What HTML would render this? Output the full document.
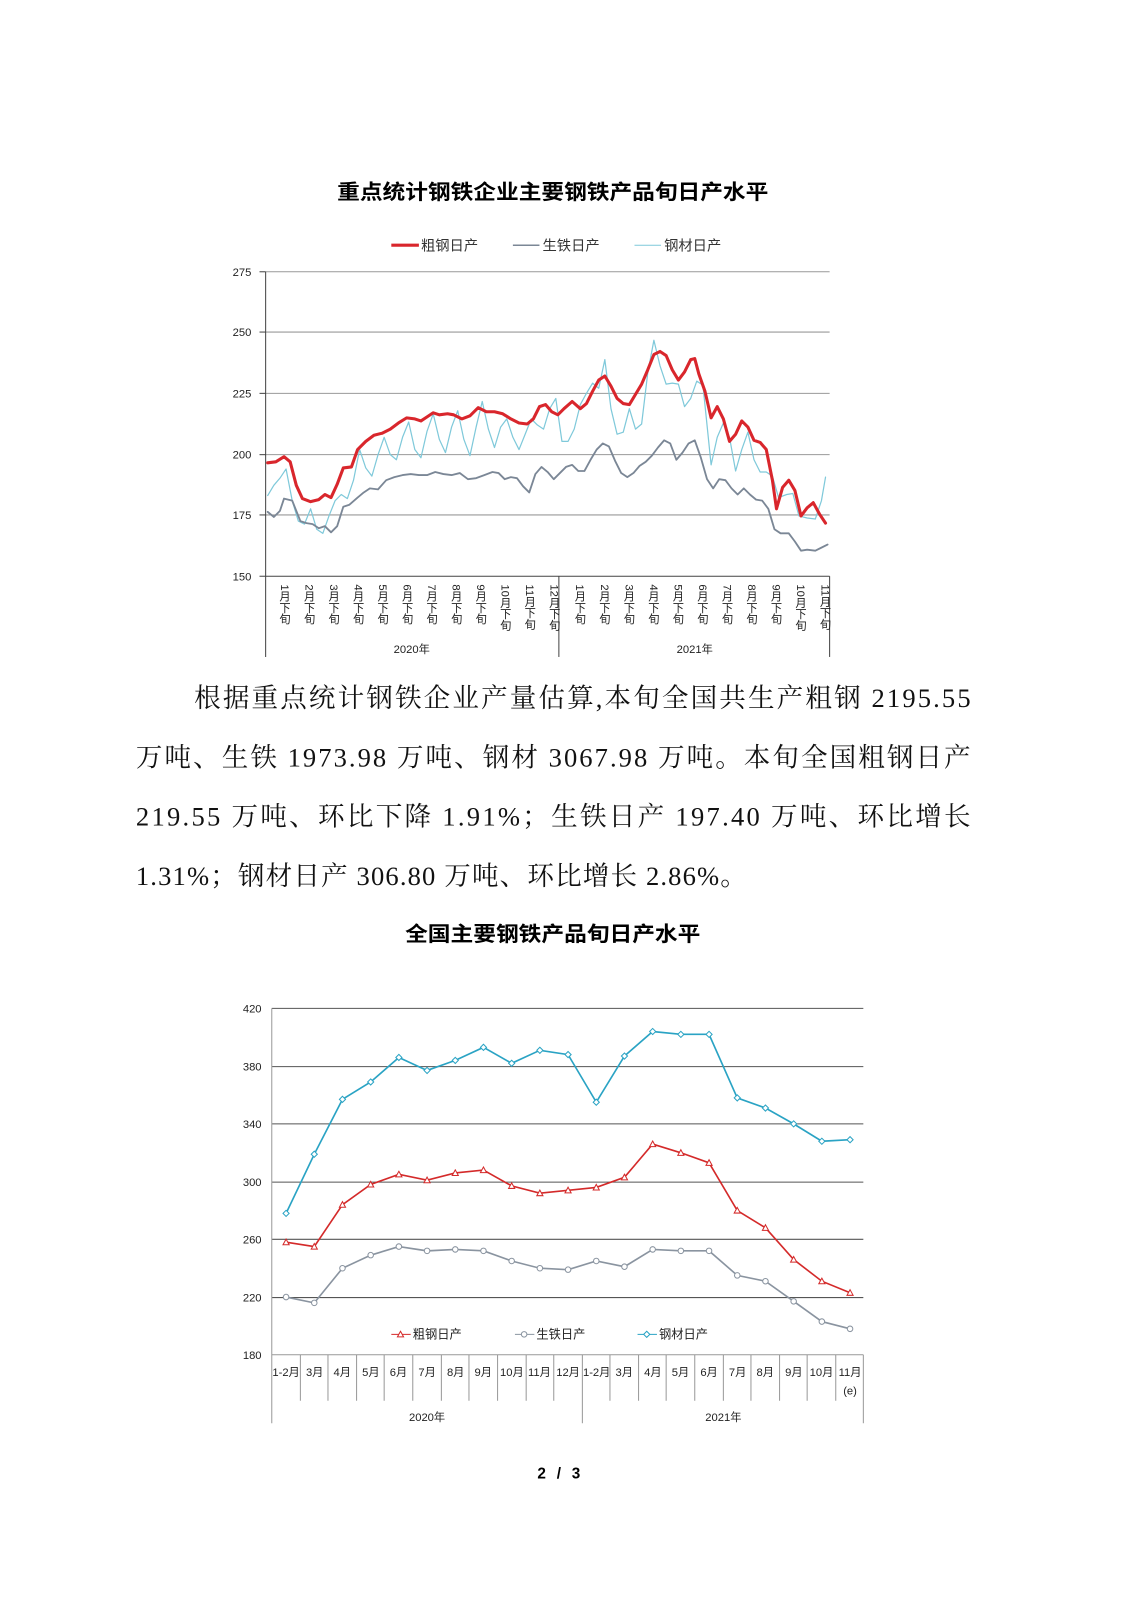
<!DOCTYPE html>
<html><head><meta charset="utf-8"><style>
body{margin:0;background:#fff;}
#o{position:relative;width:1131px;height:1600px;overflow:hidden;}
#p{position:absolute;left:0;top:0;width:1107px;height:1566px;transform:scale(1.0217);transform-origin:0 0;font-family:"Liberation Sans","Noto Sans CJK SC",sans-serif;}
.v{position:absolute;top:572px;writing-mode:vertical-rl;font-size:11px;line-height:12px;color:#222;transform:translateX(-6px);}
</style></head><body><div id="o"><div id="p">
<svg width="1131" height="1600" style="position:absolute;left:0;top:0" font-family="Liberation Sans, Noto Sans CJK SC, sans-serif">
<defs>
<marker id="mt" viewBox="-4 -4 8 8" markerWidth="8" markerHeight="8" markerUnits="userSpaceOnUse"><path d="M0,-3 L3,2.5 L-3,2.5Z" fill="#fff" stroke="#d42a2a" stroke-width="1"/></marker>
<marker id="mc" viewBox="-4 -4 8 8" markerWidth="8" markerHeight="8" markerUnits="userSpaceOnUse"><circle r="2.7" fill="#fff" stroke="#8a94a0" stroke-width="1"/></marker>
<marker id="md" viewBox="-4 -4 8 8" markerWidth="8" markerHeight="8" markerUnits="userSpaceOnUse"><path d="M0,-3 L3,0 L0,3 L-3,0Z" fill="#fff" stroke="#2aa3c4" stroke-width="1"/></marker>
</defs>
<text x="541" y="195" text-anchor="middle" font-size="20" font-weight="bold" textLength="422" lengthAdjust="spacingAndGlyphs">重点统计钢铁企业主要钢铁产品旬日产水平</text>
<g font-size="14" fill="#333">
<line x1="383" y1="240" x2="410" y2="240" stroke="#d9262c" stroke-width="3"/><text x="412" y="245">粗钢日产</text>
<line x1="502" y1="240" x2="528" y2="240" stroke="#7b8796" stroke-width="1.5"/><text x="531" y="245">生铁日产</text>
<line x1="621" y1="240" x2="647" y2="240" stroke="#7fc9da" stroke-width="1"/><text x="650" y="245">钢材日产</text>
</g>
<g stroke="#999" stroke-width="1">
<line x1="260" y1="266" x2="812" y2="266"/><line x1="260" y1="325" x2="812" y2="325"/><line x1="260" y1="385" x2="812" y2="385"/><line x1="260" y1="445" x2="812" y2="445"/><line x1="260" y1="504" x2="812" y2="504"/>
</g>
<g stroke="#444" stroke-width="1">
<line x1="260" y1="564" x2="812" y2="564"/><line x1="260" y1="266" x2="260" y2="643"/><line x1="547" y1="564" x2="547" y2="643"/><line x1="812" y1="564" x2="812" y2="643"/>
<line x1="254" y1="266" x2="260" y2="266"/><line x1="254" y1="325" x2="260" y2="325"/><line x1="254" y1="385" x2="260" y2="385"/><line x1="254" y1="445" x2="260" y2="445"/><line x1="254" y1="504" x2="260" y2="504"/><line x1="254" y1="564" x2="260" y2="564"/>
</g>
<g font-size="11" text-anchor="end" fill="#222">
<text x="246" y="270">275</text><text x="246" y="329">250</text><text x="246" y="389">225</text><text x="246" y="449">200</text><text x="246" y="508">175</text><text x="246" y="568">150</text>
</g>
<g font-size="11" text-anchor="middle" fill="#222"><text x="403" y="639">2020年</text><text x="680" y="639">2021年</text></g>
<g fill="none" stroke-linejoin="round" stroke-linecap="round">
<polyline stroke="#7fc9da" stroke-width="1.2" points="262,485 268,475 274,468 280,459 286,490 292,510 298,513 304,498 310,518 316,522 322,505 328,490 334,484 340,488 346,470 352,440 358,458 364,466 370,445 376,428 382,445 388,450 394,428 400,413 406,440 412,448 418,422 424,405 430,430 436,443 442,418 448,402 454,430 460,446 466,418 472,393 478,420 484,438 490,418 496,410 502,428 508,440 514,425 520,410 526,416 532,420 538,400 544,390 550,432 556,432 562,420 568,396 574,385 580,375 586,380 592,352 598,400 604,425 610,423 616,400 622,420 628,415 634,365 640,333 646,358 652,376 658,375 664,376 670,398 676,390 682,373 688,377 696,455 702,428 708,414 714,428 720,461 726,440 732,423 738,450 744,462 750,462 756,466 762,487 770,484 776,483 782,505 790,507 798,508 804,490 808,467"/>
<polyline stroke="#7b8796" stroke-width="1.8" points="262,501 268,506 274,500 278,488 286,490 294,510 300,512 306,513 312,517 318,515 324,521 330,515 336,496 342,494 350,487 356,482 362,478 370,479 378,470 386,467 394,465 402,464 410,465 418,465 426,462 434,464 442,465 450,463 458,469 466,468 474,465 482,462 488,463 494,469 500,467 506,468 512,476 518,482 524,464 530,457 536,462 542,469 548,463 554,457 560,455 566,461 572,461 578,450 584,440 590,434 596,437 602,451 608,463 614,467 620,463 626,456 632,452 638,446 644,438 650,431 656,434 662,450 668,443 674,434 680,431 686,448 692,469 698,478 704,469 710,470 716,478 722,484 728,478 734,484 740,489 746,490 752,498 758,518 764,522 772,522 778,530 784,539 790,538 798,539 804,536 810,533"/>
<polyline stroke="#d9262c" stroke-width="3" points="262,453 270,452 278,447 284,452 290,475 296,488 304,491 312,489 318,484 324,487 330,474 336,458 344,457 350,440 358,432 366,426 374,424 382,420 390,414 398,409 406,410 412,412 418,408 424,404 430,406 438,405 444,406 452,410 460,407 468,399 476,403 484,403 492,405 500,410 508,414 516,415 522,410 528,398 534,396 540,403 546,406 552,400 560,393 568,400 574,395 580,383 586,372 592,368 598,378 604,390 610,395 616,396 622,386 628,376 634,362 640,347 646,344 652,348 658,362 664,372 670,364 676,352 680,351 684,366 690,383 696,409 702,398 708,410 714,432 720,425 726,412 732,418 738,431 744,433 750,440 756,470 760,498 766,477 772,470 778,480 784,505 790,497 796,492 802,503 808,512"/>
</g>
<g font-family="Liberation Serif, Noto Serif CJK SC, serif" font-size="26" fill="#111">
<text x="190" y="692" textLength="760" lengthAdjust="spacing">根据重点统计钢铁企业产量估算,本旬全国共生产粗钢 2195.55</text>
<text x="133" y="750" textLength="817" lengthAdjust="spacing">万吨、生铁 1973.98 万吨、钢材 3067.98 万吨。本旬全国粗钢日产</text>
<text x="133" y="808" textLength="817" lengthAdjust="spacing">219.55 万吨、环比下降 1.91%；生铁日产 197.40 万吨、环比增长</text>
<text x="133" y="866" textLength="598" lengthAdjust="spacing">1.31%；钢材日产 306.80 万吨、环比增长 2.86%。</text>
</g>
<text x="541" y="921" text-anchor="middle" font-size="20" font-weight="bold" textLength="289" lengthAdjust="spacingAndGlyphs">全国主要钢铁产品旬日产水平</text>
<g stroke="#555" stroke-width="1">
<line x1="266" y1="987" x2="845" y2="987"/><line x1="266" y1="1044" x2="845" y2="1044"/><line x1="266" y1="1100" x2="845" y2="1100"/><line x1="266" y1="1157" x2="845" y2="1157"/><line x1="266" y1="1213" x2="845" y2="1213"/><line x1="266" y1="1270" x2="845" y2="1270"/>
</g>
<g stroke="#999" stroke-width="1">
<line x1="266" y1="1326" x2="845" y2="1326"/>
<line x1="266" y1="987" x2="266" y2="1393"/><line x1="570" y1="1326" x2="570" y2="1393"/><line x1="845" y1="1326" x2="845" y2="1393"/>
<line x1="294" y1="1326" x2="294" y2="1371"/><line x1="321" y1="1326" x2="321" y2="1371"/><line x1="349" y1="1326" x2="349" y2="1371"/><line x1="376" y1="1326" x2="376" y2="1371"/><line x1="404" y1="1326" x2="404" y2="1371"/><line x1="432" y1="1326" x2="432" y2="1371"/><line x1="459" y1="1326" x2="459" y2="1371"/><line x1="487" y1="1326" x2="487" y2="1371"/><line x1="515" y1="1326" x2="515" y2="1371"/><line x1="542" y1="1326" x2="542" y2="1371"/><line x1="597" y1="1326" x2="597" y2="1371"/><line x1="625" y1="1326" x2="625" y2="1371"/><line x1="652" y1="1326" x2="652" y2="1371"/><line x1="680" y1="1326" x2="680" y2="1371"/><line x1="708" y1="1326" x2="708" y2="1371"/><line x1="735" y1="1326" x2="735" y2="1371"/><line x1="763" y1="1326" x2="763" y2="1371"/><line x1="790" y1="1326" x2="790" y2="1371"/><line x1="818" y1="1326" x2="818" y2="1371"/>
</g>
<g font-size="11" text-anchor="end" fill="#222">
<text x="256" y="991">420</text><text x="256" y="1048">380</text><text x="256" y="1104">340</text><text x="256" y="1161">300</text><text x="256" y="1217">260</text><text x="256" y="1274">220</text><text x="256" y="1330">180</text>
</g>
<g font-size="11" text-anchor="middle" fill="#222">
<text x="280" y="1347">1-2月</text><text x="308" y="1347">3月</text><text x="335" y="1347">4月</text><text x="363" y="1347">5月</text><text x="390" y="1347">6月</text><text x="418" y="1347">7月</text><text x="446" y="1347">8月</text><text x="473" y="1347">9月</text><text x="501" y="1347">10月</text><text x="528" y="1347">11月</text><text x="556" y="1347">12月</text><text x="584" y="1347">1-2月</text><text x="611" y="1347">3月</text><text x="639" y="1347">4月</text><text x="666" y="1347">5月</text><text x="694" y="1347">6月</text><text x="722" y="1347">7月</text><text x="749" y="1347">8月</text><text x="777" y="1347">9月</text><text x="804" y="1347">10月</text><text x="832" y="1347">11月</text><text x="832" y="1365">(e)</text>
<text x="418" y="1391">2020年</text><text x="708" y="1391">2021年</text>
</g>
<g font-size="12" fill="#222">
<polyline points="383,1306 392,1306 402,1306" fill="none" stroke="#d42a2a" marker-mid="url(#mt)"/><text x="404" y="1310">粗钢日产</text>
<polyline points="504,1306 513,1306 523,1306" fill="none" stroke="#8a94a0" marker-mid="url(#mc)"/><text x="525" y="1310">生铁日产</text>
<polyline points="624,1306 633,1306 643,1306" fill="none" stroke="#2aa3c4" marker-mid="url(#md)"/><text x="645" y="1310">钢材日产</text>
</g>
<g fill="none" stroke-width="1.6">
<polyline stroke="#2aa3c4" marker-start="url(#md)" marker-mid="url(#md)" marker-end="url(#md)" points="280,1187.6 307.6,1129.7 335.2,1076 362.8,1059 390.4,1035 418,1047.7 445.6,1037.9 473.2,1025.1 500.8,1040.7 528.4,1028 556,1032.2 583.6,1078.8 611.2,1033.6 638.8,1009.6 666.4,1012.4 694,1012.4 721.6,1074.6 749.2,1084.5 776.8,1100 804.4,1117 832,1115.5"/>
<polyline stroke="#d42a2a" marker-start="url(#mt)" marker-mid="url(#mt)" marker-end="url(#mt)" points="280,1215.8 307.6,1220.1 335.2,1179.1 362.8,1159.3 390.4,1149.4 418,1155.1 445.6,1148 473.2,1145.2 500.8,1160.7 528.4,1167.8 556,1165 583.6,1162.2 611.2,1152.3 638.8,1119.8 666.4,1128.3 694,1138.1 721.6,1184.8 749.2,1201.7 776.8,1232.8 804.4,1254 832,1265.3"/>
<polyline stroke="#8a94a0" marker-start="url(#mc)" marker-mid="url(#mc)" marker-end="url(#mc)" points="280,1269.5 307.6,1275.2 335.2,1241.3 362.8,1228.5 390.4,1220.1 418,1224.3 445.6,1222.9 473.2,1224.3 500.8,1234.2 528.4,1241.3 556,1242.7 583.6,1234.2 611.2,1239.8 638.8,1222.9 666.4,1224.3 694,1224.3 721.6,1248.3 749.2,1254 776.8,1273.7 804.4,1293.5 832,1300.6"/>
</g>
<text x="547" y="1447" text-anchor="middle" font-size="15" font-weight="bold" textLength="42" lengthAdjust="spacing">2 / 3</text>
</svg>
<div class="v" style="left:278px">1月下旬</div><div class="v" style="left:302px">2月下旬</div><div class="v" style="left:326px">3月下旬</div><div class="v" style="left:350px">4月下旬</div><div class="v" style="left:374px">5月下旬</div><div class="v" style="left:398px">6月下旬</div><div class="v" style="left:422px">7月下旬</div><div class="v" style="left:446px">8月下旬</div><div class="v" style="left:470px">9月下旬</div><div class="v" style="left:494px">10月下旬</div><div class="v" style="left:518px">11月下旬</div><div class="v" style="left:542px">12月下旬</div>
<div class="v" style="left:567px">1月下旬</div><div class="v" style="left:591px">2月下旬</div><div class="v" style="left:615px">3月下旬</div><div class="v" style="left:639px">4月下旬</div><div class="v" style="left:663px">5月下旬</div><div class="v" style="left:687px">6月下旬</div><div class="v" style="left:711px">7月下旬</div><div class="v" style="left:735px">8月下旬</div><div class="v" style="left:759px">9月下旬</div><div class="v" style="left:783px">10月下旬</div><div class="v" style="left:807px">11月下旬</div>
</div></div></body></html>
